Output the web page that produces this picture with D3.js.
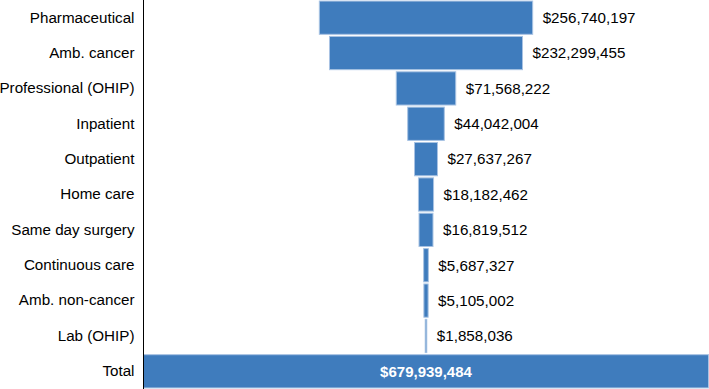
<!DOCTYPE html>
<html><head><meta charset="utf-8">
<script src="https://cdn.jsdelivr.net/npm/d3@7"></script>
<style>body{margin:0;background:#fff}svg{display:block;font-family:"Liberation Sans",Arial,sans-serif}</style>
</head><body>
<svg id="c" width="709" height="389"></svg>
<script>
const categories = ["Pharmaceutical","Amb. cancer","Professional (OHIP)","Inpatient","Outpatient","Home care","Same day surgery","Continuous care","Amb. non-cancer","Lab (OHIP)","Total"];
const values = [256740197,232299455,71568222,44042004,27637267,18182462,16819512,5687327,5105002,1858036,679939484];

const W = 709, H = 389;
const left = 143.5, right = 708.5;
const svg = d3.select("#c");
const y = d3.scaleBand().domain(categories).range([0, H]).paddingInner(0.06).paddingOuter(0.03);
const w = d3.scaleLinear().domain([0, d3.max(values)]).range([0, right - left]);
const cx = (left + right) / 2;
const fmt = v => "$" + d3.format(",")(v);
const data = categories.map((c, i) => ({c, v: values[i], total: c === "Total"}));

svg.selectAll("rect.bar").data(data).join("rect")
  .attr("class","bar")
  .attr("x", d => cx - w(d.v)/2)
  .attr("y", d => y(d.c))
  .attr("width", d => w(d.v))
  .attr("height", y.bandwidth())
  .attr("fill", "#3f7cbd")
  .attr("stroke", "#a8c3e3")
  .attr("stroke-width", 1);

svg.selectAll("text.val").data(data).join("text")
  .attr("class","val")
  .attr("x", d => d.total ? cx : cx + w(d.v)/2 + 10)
  .attr("y", d => y(d.c) + y.bandwidth()/2)
  .attr("dy", "0.35em")
  .attr("text-anchor", d => d.total ? "middle" : "start")
  .attr("font-size", d => d.total ? 15 : 15.2)
  .attr("font-weight", d => d.total ? "bold" : "normal")
  .attr("fill", d => d.total ? "#fff" : "#000")
  .text(d => fmt(d.v));

const axis = d3.axisLeft(y).tickSize(0).tickPadding(9);
const g = svg.append("g").attr("transform", `translate(${left},0)`).call(axis);
g.select(".domain").attr("stroke", "#000").attr("d", `M0,0V${H}`);
g.selectAll("text").attr("font-size", 15.2).attr("font-family", '"Liberation Sans",Arial,sans-serif').attr("fill", "#000");
</script>
</body></html>
